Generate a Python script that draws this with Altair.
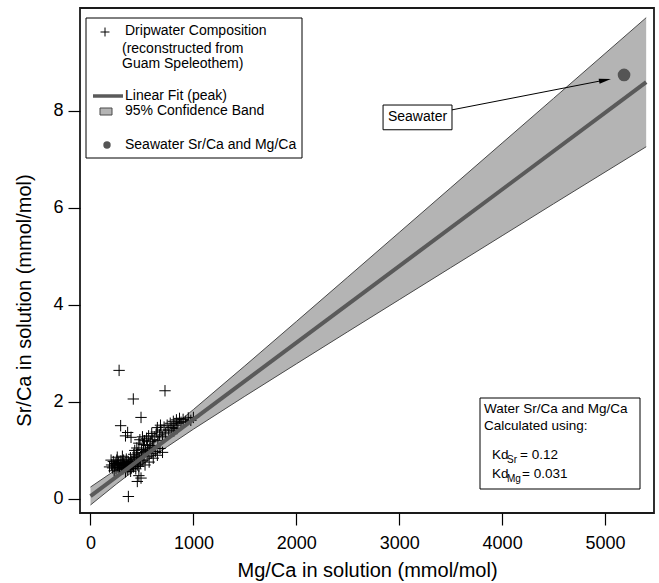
import altair as alt
import pandas as pd

FONT = "Liberation Sans"

# Dripwater composition reconstructed from the Guam speleothem (mmol/mol)
drip_mg = [205, 215, 222, 232, 240, 248, 255, 262, 268, 275, 282, 288, 295, 300, 308,
           315, 322, 328, 335, 342, 348, 355, 362, 368, 375, 382, 388, 395, 402, 410,
           418, 425, 432, 440, 448, 455, 462, 470, 478, 485, 230, 260, 310, 340, 390,
           420, 200, 185, 270, 320, 360, 400,
           450, 470, 480, 495, 505, 515, 525, 535, 545, 555, 565, 575, 585, 595, 605,
           615, 625, 640, 655, 670, 685, 700, 715, 730, 745, 760, 775, 790, 805, 820,
           835, 850, 865, 880, 900, 925, 950, 975, 1000, 810, 840,
           510, 530, 550, 570, 590, 610, 630, 650, 675, 700,
           500, 520, 560, 600, 460, 430,
           455, 491, 470, 368,
           278, 724, 416, 491, 293, 361, 394, 340, 650, 680]
drip_sr = [0.70, 0.64, 0.77, 0.68, 0.73, 0.62, 0.80, 0.70, 0.65, 0.75, 0.60, 0.71, 0.78, 0.66, 0.73,
           0.62, 0.80, 0.69, 0.75, 0.64, 0.82, 0.70, 0.60, 0.77, 0.67, 0.73, 0.85, 0.63, 0.78, 0.70,
           0.66, 0.82, 0.74, 0.62, 0.88, 0.70, 0.78, 0.67, 0.85, 0.74, 0.58, 0.86, 0.88, 0.56, 0.57,
           0.92, 0.80, 0.66, 0.74, 0.71, 0.68, 0.72,
           1.05, 1.15, 1.22, 1.02, 1.28, 1.12, 1.20, 0.98, 1.25, 1.10, 1.30, 1.05, 1.18, 1.35, 1.22,
           1.10, 1.28, 1.38, 1.20, 1.32, 1.42, 1.28, 1.48, 1.36, 1.52, 1.42, 1.56, 1.47, 1.60, 1.52,
           1.63, 1.56, 1.66, 1.58, 1.64, 1.60, 1.67, 1.62, 1.68, 1.40, 1.45,
           0.80, 0.70, 0.88, 0.76, 0.94, 0.84, 0.98, 0.90, 1.04, 0.96,
           0.95, 0.90, 1.00, 1.05, 0.95, 1.00,
           0.36, 0.43, 0.48, 0.05,
           2.65, 2.23, 2.06, 1.68, 1.51, 1.37, 1.27, 1.30, 1.47, 1.52]

# Linear fit (peak) with its 95% confidence band
fit_mg = [0, 5400]
fit_sr = [0.06, 8.59]
band_mg = [0, 250, 500, 750, 1000, 1500, 2000, 2500, 3000, 3500, 4000, 4500, 5400]
band_lo = [-0.125, 0.304, 0.709, 1.083, 1.438, 2.117, 2.784, 3.447, 4.107, 4.767, 5.425, 6.084, 7.26]
band_hi = [0.245, 0.606, 0.991, 1.407, 1.842, 2.743, 3.656, 4.573, 5.493, 6.414, 7.335, 8.257, 9.92]

# Seawater Sr/Ca and Mg/Ca
sea_mg = [5185]
sea_sr = [8.74]

x_ticks = [0, 1000, 2000, 3000, 4000, 5000]
y_ticks = [0, 2, 4, 6, 8]

x_scale = alt.Scale(domain=[-102, 5476], nice=False, zero=False)
y_scale = alt.Scale(domain=[-0.29, 10.12], nice=False, zero=False)

x_axis = alt.Axis(values=x_ticks, title="Mg/Ca in solution (mmol/mol)", format="d",
                  titleY=57, titleBaseline="middle", labelPadding=9)
y_axis = alt.Axis(values=y_ticks, title="Sr/Ca in solution (mmol/mol)",
                  titleX=-56, titleY=292, titleBaseline="middle", titleAlign="center",
                  labelPadding=5)


def X(field):
    return alt.X(field, type="quantitative", scale=x_scale, axis=x_axis)


def Y(field):
    return alt.Y(field, type="quantitative", scale=y_scale, axis=y_axis)


drip = pd.DataFrame({"mg": drip_mg, "sr": drip_sr})
fit = pd.DataFrame({"mg": fit_mg, "sr": fit_sr})
band = pd.DataFrame({"mg": band_mg, "lo": band_lo, "hi": band_hi})
sea = pd.DataFrame({"mg": sea_mg, "sr": sea_sr})

CROSS = "M-1,0L1,0M0,-1L0,1"
ARROWHEAD = "M0,-1L0.42,1L-0.42,1Z"

band_fill = alt.Chart(band).mark_area(color="#b4b4b4", opacity=1).encode(
    x=X("mg"), y=Y("lo"), y2="hi")
band_lo_edge = alt.Chart(band).mark_line(color="#4a4a4a", strokeWidth=1).encode(
    x=X("mg"), y=Y("lo"))
band_hi_edge = alt.Chart(band).mark_line(color="#4a4a4a", strokeWidth=1).encode(
    x=X("mg"), y=Y("hi"))

crosses = alt.Chart(drip).mark_point(shape=CROSS, size=130, filled=False,
                                     color="black", strokeWidth=1, opacity=1).encode(
    x=X("mg"), y=Y("sr"))

fit_line = alt.Chart(fit).mark_line(color="#5a5a5a", strokeWidth=4).encode(
    x=X("mg"), y=Y("sr"))

sea_dot = alt.Chart(sea).mark_point(shape="circle", size=160, filled=True,
                                    color="#555555", opacity=1).encode(
    x=X("mg"), y=Y("sr"))

# Callout for the seawater point
callout = pd.DataFrame({"x0": [2843], "x1": [3513], "y0": [7.61], "y1": [8.12],
                        "tx": [3178], "ty": [7.865], "t": ["Seawater"]})
callout_box = alt.Chart(callout).mark_rect(fill="white", stroke="black", strokeWidth=1).encode(
    x=X("x0"), x2="x1", y=Y("y0"), y2="y1")
callout_text = alt.Chart(callout).mark_text(font=FONT, fontSize=14, color="black",
                                            baseline="middle", align="center").encode(
    x=X("tx"), y=Y("ty"), text="t:N")
arrow = pd.DataFrame({"x0": [3513], "y0": [8.02], "x1": [5000], "y1": [8.635]})
arrow_shaft = alt.Chart(arrow).mark_rule(color="black", strokeWidth=1).encode(
    x=X("x0"), y=Y("y0"), x2="x1", y2="y1")
arrow_head = alt.Chart(arrow).mark_point(shape=ARROWHEAD, size=144, filled=True,
                                         color="black", opacity=1, angle=79).encode(
    x=X("x1"), y=Y("y1"))


def one_row():
    return pd.DataFrame({"k": [0]})


def label(text, px, py, size=14, align="left"):
    return alt.Chart(one_row()).mark_text(text=text, font=FONT, fontSize=size, color="black",
                                          align=align, baseline="middle").encode(
        x=alt.value(px), y=alt.value(py))


def box(x0, x1, y0, y1, fill="white", stroke="black", sw=1):
    return alt.Chart(one_row()).mark_rect(fill=fill, stroke=stroke, strokeWidth=sw).encode(
        x=alt.value(x0), x2=alt.value(x1), y=alt.value(y0), y2=alt.value(y1))


# Legend (upper left)
legend_layers = [
    box(6, 222, 10, 150),
    alt.Chart(one_row()).mark_point(shape=CROSS, size=80, filled=False, color="black",
                                    strokeWidth=1, opacity=1).encode(
        x=alt.value(25), y=alt.value(24)),
    label("Dripwater Composition", 45, 23),
    label("(reconstructed from", 42, 41),
    label("Guam Speleothem)", 42, 56),
    alt.Chart(one_row()).mark_rule(color="#5a5a5a", strokeWidth=3.5).encode(
        x=alt.value(13), x2=alt.value(43), y=alt.value(88)),
    label("Linear Fit (peak)", 45, 88),
    box(20, 32, 100, 107, fill="#b4b4b4", stroke="#4a4a4a"),
    label("95% Confidence Band", 45, 103),
    alt.Chart(one_row()).mark_point(shape="circle", size=55, filled=True, color="#555555",
                                    opacity=1).encode(x=alt.value(27), y=alt.value(137)),
    label("Seawater Sr/Ca and Mg/Ca", 45, 137),
]

# Partition coefficient note (lower right)
kd_layers = [
    box(400, 560, 390, 481),
    label("Water Sr/Ca and Mg/Ca", 404, 401, size=13.5),
    label("Calculated using:", 404, 418, size=13.5),
    label("Kd", 412, 447, size=13.5),
    label("Sr", 427, 452, size=10),
    label("= 0.12", 440, 447, size=13.5),
    label("Kd", 412, 465.5, size=13.5),
    label("Mg", 427, 470.5, size=10),
    label("= 0.031", 442, 465.5, size=13.5),
]

chart = alt.layer(
    band_fill, band_lo_edge, band_hi_edge, crosses, fit_line, sea_dot,
    arrow_shaft, arrow_head, callout_box, callout_text,
    *legend_layers, *kd_layers,
).properties(
    width=574, height=505,
    autosize=alt.AutoSizeParams(type="none"),
    padding={"left": 80, "top": 8, "right": 5, "bottom": 70},
    background="white",
).configure_view(
    stroke="#1a1a1a", strokeWidth=1.8,
).configure_axis(
    grid=False, domain=False, ticks=True, tickSize=12, tickWidth=1.2, tickColor="black",
    labelFont=FONT, labelFontSize=18, labelColor="black",
    titleFont=FONT, titleFontSize=20, titleFontWeight="normal", titleColor="black",
)

chart.save("out.html", embed_options={"renderer": "svg", "actions": False})
